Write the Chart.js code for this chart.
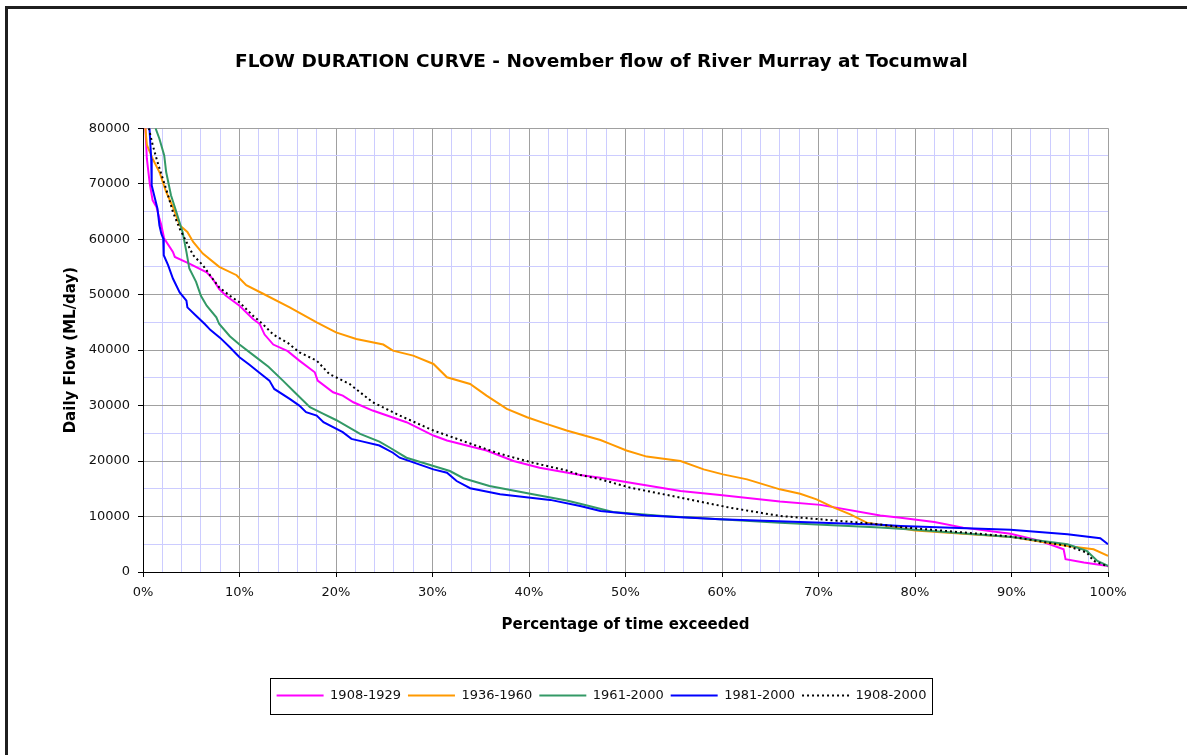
<!DOCTYPE html>
<html>
<head>
<meta charset="utf-8">
<title>Flow duration curve - River Murray at Tocumwal</title>
<script src="https://cdn.jsdelivr.net/npm/chart.js@4.4.0/dist/chart.umd.min.js"></script>
<style>
  html, body { margin: 0; padding: 0; background: #fff; overflow: hidden; }
  #frame {
    position: absolute; left: 5px; top: 6px; width: 1400px; height: 1000px;
    border-left: 3px solid #1f1f1f; border-top: 3px solid #1f1f1f;
  }
  #chart { position: absolute; left: 0; top: 0; }
</style>
</head>
<body>
<div id="frame"></div>
<canvas id="chart" width="1187" height="755"></canvas>
<script>
// November daily flows, % of time exceeded vs ML/day
const pct1908_1929 = [0.25, 0.4, 0.7, 1.0, 1.4, 1.7, 1.9, 2.2, 3.1, 3.3, 4.8, 6.6, 7.2, 7.9, 8.6, 10.0, 11.4, 12.1, 12.6, 13.5, 15.0, 16.2, 17.8, 18.1, 19.7, 20.7, 21.8, 23.8, 27.3, 30.1, 31.5, 35.6, 38.4, 41.1, 45.3, 47.4, 55.7, 59.8, 66.0, 70.2, 76.4, 78.5, 82.0, 85.0, 89.9, 93.0, 95.4, 95.6, 97.5, 100];
const flow1908_1929 = [80000, 74500, 70000, 67000, 65800, 63700, 62500, 60100, 57700, 56800, 55600, 54000, 52900, 51000, 49800, 48000, 45600, 44700, 42800, 41000, 39800, 38100, 36000, 34500, 32400, 31800, 30600, 29100, 27000, 24600, 23700, 21900, 20000, 18800, 17500, 17000, 14600, 13900, 12700, 12100, 10200, 9800, 9000, 8000, 6900, 5600, 4100, 2300, 1700, 1100];

const pct1936_1960 = [0.25, 0.4, 1.0, 1.7, 2.4, 3.1, 3.8, 4.6, 5.2, 6.2, 7.9, 9.7, 10.7, 12.4, 15.2, 18.0, 20.0, 22.1, 24.9, 25.9, 28.0, 30.1, 31.5, 33.9, 35.6, 37.7, 39.8, 41.8, 43.9, 47.4, 48.4, 50.1, 52.2, 55.7, 58.1, 60.1, 62.6, 66.0, 68.1, 69.8, 71.6, 73.3, 75.0, 76.4, 80.0, 85.0, 90.0, 95.8, 98.5, 100];
const flow1936_1960 = [80000, 77000, 74500, 72100, 68500, 65800, 62500, 61300, 59500, 57400, 55000, 53500, 51700, 50200, 47700, 45000, 43200, 42000, 41000, 39900, 39000, 37500, 35100, 33900, 31800, 29400, 27900, 26700, 25500, 23800, 23100, 21900, 20800, 20000, 18500, 17600, 16700, 14900, 14100, 13100, 11600, 10400, 8900, 8500, 7500, 6900, 6300, 4700, 4100, 2900];

const pct1961_2000 = [1.3, 1.7, 2.2, 2.4, 2.9, 3.4, 4.1, 4.5, 4.8, 5.5, 6.0, 6.6, 7.6, 7.9, 9.0, 10.0, 11.5, 13.0, 14.5, 15.9, 17.3, 18.7, 20.0, 22.5, 24.5, 25.6, 27.3, 30.1, 31.8, 33.2, 35.9, 40.4, 43.9, 45.3, 48.7, 53.9, 66.0, 76.4, 80.0, 90.0, 95.8, 97.8, 98.9, 100];
const flow1961_2000 = [80000, 78100, 75100, 72100, 67900, 65200, 61300, 57700, 54700, 52300, 49800, 48000, 45900, 44700, 42500, 41000, 39000, 37000, 34500, 32100, 29700, 28500, 27400, 24900, 23500, 22400, 20600, 19100, 18200, 16900, 15500, 14000, 12900, 12300, 10800, 10100, 8900, 8000, 7600, 6300, 5000, 3800, 2000, 1100];

const pct1981_2000 = [0.67, 0.85, 0.9, 1.2, 1.5, 1.7, 1.9, 2.1, 2.15, 2.6, 3.1, 3.8, 4.5, 4.6, 5.5, 6.4, 7.0, 8.0, 9.0, 10.0, 11.0, 12.0, 13.1, 13.6, 15.2, 16.2, 16.9, 18.0, 18.7, 20.7, 21.6, 22.8, 24.5, 25.9, 26.6, 30.1, 31.5, 32.5, 33.9, 37.0, 42.2, 45.3, 47.4, 52.2, 59.8, 76.4, 78.5, 89.9, 95.8, 99.2, 100];
const flow1981_2000 = [80000, 74500, 69700, 67600, 65500, 62500, 61000, 60100, 57100, 55300, 52900, 50400, 48900, 47700, 46200, 44700, 43600, 42200, 40500, 38700, 37400, 36000, 34500, 33000, 31200, 30000, 28800, 28200, 27000, 25200, 24000, 23500, 22800, 21500, 20600, 18500, 17900, 16400, 15100, 14000, 13000, 11900, 11000, 10200, 9500, 8500, 8300, 7600, 6800, 6100, 5000];

const pct1908_2000 = [0.6, 1.0, 1.5, 2.05, 2.6, 3.1, 3.8, 4.5, 5.2, 6.2, 7.2, 7.9, 9.0, 10.0, 11.4, 12.4, 13.5, 15.0, 16.2, 18.0, 19.3, 21.4, 23.8, 26.6, 30.1, 33.5, 37.0, 40.4, 43.9, 45.3, 47.4, 50.5, 55.7, 60.8, 66.0, 70.2, 75.7, 78.5, 89.9, 95.8, 97.8, 98.5, 100];
const flow1908_2000 = [80000, 77000, 73900, 70900, 67900, 64900, 61900, 59500, 57100, 55300, 52900, 51300, 49800, 48600, 46200, 44700, 42800, 41300, 39600, 38100, 35700, 33900, 30600, 28200, 25500, 23400, 21300, 19700, 18300, 17500, 16700, 15200, 13400, 11600, 10100, 9500, 8700, 8100, 6400, 4700, 3500, 2000, 1000];

const GRID_MAJOR = "#a0a0a0";
const GRID_MINOR = "#ccccff";

Chart.defaults.font.family = "'DejaVu Sans', sans-serif";
Chart.defaults.color = "#111";

function series(label, pct, flow, color, dash, order) {
  return {
    label: label,
    order: order,
    yAxisID: "y",
    data: pct.map((p, i) => ({ x: p, y: flow[i] })),
    borderColor: color,
    backgroundColor: color,
    borderWidth: 2,
    borderDash: dash,
    pointRadius: 0,
    tension: 0,
    fill: false
  };
}

// box round the legend row
const legendFrame = {
  id: "legendFrame",
  afterDraw(chart) {
    const boxes = chart.legend.legendHitBoxes;
    if (!boxes || !boxes.length) return;
    const first = boxes[0];
    const last = boxes[boxes.length - 1];
    const cy = first.top + first.height / 2;
    const ctx = chart.ctx;
    ctx.save();
    ctx.strokeStyle = "#000";
    ctx.lineWidth = 1;
    ctx.strokeRect(
      Math.round(first.left - 7) + 0.5,
      Math.round(cy - 18) + 0.5,
      Math.round(last.left + last.width - first.left + 12),
      36
    );
    ctx.restore();
  }
};

const isMajor = (c, step) => c.tick && Math.round(c.tick.value) % step === 0;

new Chart(document.getElementById("chart"), {
  type: "line",
  data: {
    datasets: [
      series("1908-1929", pct1908_1929, flow1908_1929, "#ff00ff", [], 5),
      series("1936-1960", pct1936_1960, flow1936_1960, "#ff9900", [], 4),
      series("1961-2000", pct1961_2000, flow1961_2000, "#339966", [], 3),
      series("1981-2000", pct1981_2000, flow1981_2000, "#0000ff", [], 2),
      series("1908-2000", pct1908_2000, flow1908_2000, "#000000", [2, 3], 1)
    ]
  },
  options: {
    responsive: false,
    animation: false,
    devicePixelRatio: 1,
    layout: { padding: { left: 26, right: 10, top: 0, bottom: 43 } },
    plugins: {
      title: {
        display: true,
        text: "FLOW DURATION CURVE - November flow of River Murray at Tocumwal",
        color: "#000",
        font: { size: 18.5, weight: "bold" },
        padding: { top: 51, bottom: 55 }
      },
      legend: {
        position: "bottom",
        labels: {
          usePointStyle: true,
          pointStyle: "line",
          pointStyleWidth: 47,
          padding: 7,
          color: "#111",
          font: { size: 13 },
          sort: (a, b) => a.datasetIndex - b.datasetIndex,
          // legend samples take the line's own dash and width
          generateLabels(chart) {
            const items = Chart.defaults.plugins.legend.labels.generateLabels(chart);
            items.forEach(item => {
              const ds = chart.data.datasets[item.datasetIndex];
              item.strokeStyle = ds.borderColor;
              item.lineWidth = ds.borderWidth;
              item.lineDash = ds.borderDash;
            });
            return items;
          }
        }
      },
      tooltip: { enabled: false }
    },
    scales: {
      x: {
        type: "linear",
        min: 0,
        max: 100,
        afterFit(s) { s.height = 110; },
        ticks: {
          stepSize: 2,
          autoSkip: false,
          maxRotation: 0,
          padding: 8,
          font: { size: 13 },
          callback: v => (Math.round(v) % 10 === 0 ? v + "%" : "")
        },
        grid: {
          color: c => (isMajor(c, 10) ? GRID_MAJOR : GRID_MINOR),
          tickColor: c => (isMajor(c, 10) ? "#000" : "transparent"),
          tickLength: 5
        },
        border: { color: "#000" },
        title: {
          display: true,
          text: "Percentage of time exceeded",
          color: "#000",
          font: { size: 15, weight: "bold" },
          padding: { top: 0, bottom: 48 }
        }
      },
      y: {
        type: "linear",
        position: "left",
        min: 0,
        max: 80000,
        afterFit(s) { s.width = 117; },
        ticks: {
          stepSize: 5000,
          autoSkip: false,
          padding: 8,
          font: { size: 13 },
          callback: v => (Math.round(v) % 10000 === 0 ? String(v) : "")
        },
        grid: {
          color: c => (isMajor(c, 10000) ? GRID_MAJOR : GRID_MINOR),
          tickColor: c => (isMajor(c, 10000) ? "#000" : "transparent"),
          tickLength: 5
        },
        border: { color: "#000" },
        title: {
          display: true,
          text: "Daily Flow (ML/day)",
          color: "#000",
          font: { size: 15, weight: "bold" },
          padding: { top: 36, bottom: 0 }
        }
      },
      // empty right-hand gutter so the plot stops short of the frame edge
      yGutter: {
        position: "right",
        afterFit(s) { s.width = 69; },
        grid: { display: false, drawTicks: false },
        ticks: { display: false },
        border: { display: false }
      }
    }
  },
  plugins: [legendFrame]
});
</script>
</body>
</html>
